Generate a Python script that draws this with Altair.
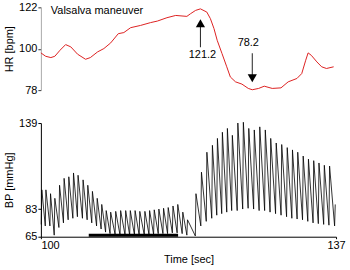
import altair as alt
import pandas as pd

# ---------------- data ----------------
# Heart rate trace (time in s, HR in bpm)
hr_time = [100.0, 100.6, 101.25, 101.75, 102.4, 103.1, 103.75, 104.6, 105.6, 106.2,
           107.1, 107.9, 108.75, 109.7, 110.4, 111.25, 112.5, 113.75, 114.6, 115.8,
           116.9, 118.3, 118.75, 119.4, 120.0, 120.8, 121.25, 121.7, 122.1, 122.7,
           123.3, 123.75, 124.4, 125.2, 126.0, 126.5, 127.3, 128.0, 129.0, 130.1,
           131.0, 132.1, 132.7, 133.2, 133.5, 133.9, 134.6, 135.2, 135.8, 136.7]
hr_bpm = [97.8, 96.0, 95.3, 96.0, 99.2, 102.2, 101.0, 97.1, 94.4, 95.3,
          98.3, 100.1, 103.1, 108.0, 108.6, 111.2, 112.4, 113.9, 114.7, 116.5,
          117.7, 117.2, 118.6, 120.4, 121.2, 119.5, 116.0, 110.7, 104.5, 97.5,
          90.4, 85.0, 82.4, 81.2, 78.9, 78.2, 78.9, 80.1, 78.9, 79.2,
          82.4, 84.2, 86.8, 93.9, 97.8, 96.5, 93.0, 90.4, 89.5, 90.4]

# Blood pressure: per beat, time of systolic peak, systolic value, preceding diastolic value
beat_time = [100.12, 100.63, 101.21, 101.75, 102.34, 102.91, 103.5, 104.09, 104.66, 105.29,
             105.88, 106.46, 107.06, 107.63, 108.19, 108.75, 109.38, 110.0, 110.63, 111.21,
             111.81, 112.4, 113.04, 113.63, 114.21, 114.79, 115.38, 115.96, 116.56, 117.16,
             117.79, 118.38, 119.44, 120.13, 120.81, 121.5, 122.13, 122.75, 123.38, 124.0,
             124.69, 125.38, 126.06, 126.75, 127.44, 128.13, 128.81, 129.5, 130.19, 130.88,
             131.54, 132.2, 132.88, 133.54, 134.2, 134.86, 135.53, 136.19, 136.9]
beat_sys = [95.5, 95.5, 93.0, 90.0, 98.5, 103.0, 104.0, 106.5, 105.0, 102.0,
            98.5, 94.5, 90.0, 86.0, 82.0, 81.0, 81.5, 82.0, 82.0, 82.0,
            82.0, 81.5, 81.5, 82.0, 82.5, 83.0, 83.5, 84.0, 85.0, 86.0,
            81.0, 76.0, 93.0, 107.0, 120.0, 124.5, 129.0, 133.0, 135.5, 131.0,
            139.0, 139.5, 135.5, 134.5, 136.5, 134.5, 129.0, 126.0, 125.0, 123.0,
            121.5, 120.0, 117.5, 115.5, 114.5, 113.0, 111.5, 111.0, 86.0]
beat_dia = [73.0, 72.0, 72.0, 66.0, 71.0, 74.0, 76.0, 77.0, 78.0, 77.0,
            76.0, 74.0, 72.0, 70.0, 68.0, 67.0, 66.5, 66.0, 66.0, 66.0,
            66.0, 66.0, 66.0, 66.5, 66.5, 67.0, 67.0, 67.0, 67.5, 67.5,
            67.0, 66.0, 65.5, 72.0, 75.0, 77.0, 79.0, 80.0, 81.0, 82.0,
            82.0, 83.0, 83.5, 83.0, 82.0, 82.0, 81.0, 80.0, 79.0, 78.0,
            77.0, 76.5, 76.0, 75.0, 74.0, 73.5, 73.0, 72.5, 72.0]
UPSTROKE = 0.08  # s from diastolic foot to systolic peak

# Strain period bar
strain_start = [106.0]
strain_end = [117.2]
strain_level = [66.0]

# Annotations
arrow_time = [120.0, 126.5]
arrow_from = [100.8, 97.6]
arrow_to = [114.0, 86.0]
head_up = {"t": [120.0], "v": [113.6]}
head_down = {"t": [126.5], "v": [84.3]}
ann_text = ["121.2", "78.2"]
ann_time = [120.25, 126.0]
ann_v = [96.5, 102.9]
title_text = ["Valsalva maneuver"]
title_time = [101.25]
title_v = [119.9]

# ---------------- build tables ----------------
hr_df = pd.DataFrame({"t": hr_time, "v": hr_bpm})
rows = []
for t, s, d in zip(beat_time, beat_sys, beat_dia):
    rows.append({"t": t - UPSTROKE, "v": d})
    rows.append({"t": t, "v": s})
bp_df = pd.DataFrame(rows)
bp_df["i"] = range(len(bp_df))

FONT = "Liberation Sans"
x_dom = [100, 137]

x_top = alt.X("t:Q", scale=alt.Scale(domain=x_dom, nice=False, zero=False), axis=None)
y_top = alt.Y("v:Q", scale=alt.Scale(domain=[78, 122], nice=False, zero=False),
              axis=alt.Axis(values=[78, 100, 122], title="HR [bpm]", grid=False,
                            domainColor="#aaaaaa", tickColor="#333333", tickSize=3,
                            labelPadding=1, titlePadding=4))

hr_line = alt.Chart(hr_df).mark_line(color="#dd2222", strokeWidth=1).encode(
    x=x_top, y=y_top, order="t:Q")

shaft_df = pd.DataFrame({"t": arrow_time, "v": arrow_from, "v2": arrow_to})
shafts = alt.Chart(shaft_df).mark_rule(color="#222222", strokeWidth=1).encode(
    x=x_top, y=y_top, y2="v2:Q")
up_head = alt.Chart(pd.DataFrame(head_up)).mark_point(
    shape="triangle-up", filled=True, color="black", size=85, opacity=1).encode(x=x_top, y=y_top)
down_head = alt.Chart(pd.DataFrame(head_down)).mark_point(
    shape="triangle-down", filled=True, color="black", size=85, opacity=1).encode(x=x_top, y=y_top)
ann = alt.Chart(pd.DataFrame({"t": ann_time, "v": ann_v, "txt": ann_text})).mark_text(
    font=FONT, fontSize=11, color="black", baseline="middle", align="center").encode(
    x=x_top, y=y_top, text="txt:N")
ttl = alt.Chart(pd.DataFrame({"t": title_time, "v": title_v, "txt": title_text})).mark_text(
    font=FONT, fontSize=11, color="black", baseline="middle", align="left").encode(
    x=x_top, y=y_top, text="txt:N")

top = alt.layer(hr_line, shafts, up_head, down_head, ann, ttl).properties(width=296, height=83)

x_bot = alt.X("t:Q", scale=alt.Scale(domain=x_dom, nice=False, zero=False),
              axis=alt.Axis(values=[100, 137], title="Time [sec]", grid=False,
                            domainColor="black", tickColor="black", tickSize=2,
                            labelPadding=1, titlePadding=3,
                            labelAlign={"condition": {"test": "datum.value <= 100", "value": "left"},
                                        "value": "center"}))
y_bot = alt.Y("v:Q", scale=alt.Scale(domain=[65, 139], nice=False, zero=False),
              axis=alt.Axis(values=[65, 83, 139], title="BP [mmHg]", grid=False,
                            domainColor="black", tickColor="black", tickSize=3,
                            labelPadding=1, titlePadding=4))

bp_line = alt.Chart(bp_df).mark_line(color="black", strokeWidth=0.8).encode(
    x=x_bot, y=y_bot, order="i:Q")
bar_df = pd.DataFrame({"t": strain_start, "t2": strain_end, "v": strain_level})
bar = alt.Chart(bar_df).mark_rule(color="black", strokeWidth=3).encode(
    x=x_bot, x2="t2:Q", y=y_bot)

bottom = alt.layer(bp_line, bar).properties(width=296, height=114)

chart = alt.vconcat(top, bottom, spacing=33, bounds="flush").properties(
    padding={"left": 3, "top": 1, "right": 4, "bottom": 2},
    background="white"
).configure_view(strokeWidth=0).configure_axis(
    labelFont=FONT, labelFontSize=11, labelColor="black",
    titleFont=FONT, titleFontSize=11, titleFontWeight="normal", titleColor="black"
)

chart.save("out.html", embed_options={"renderer": "svg", "actions": False})
